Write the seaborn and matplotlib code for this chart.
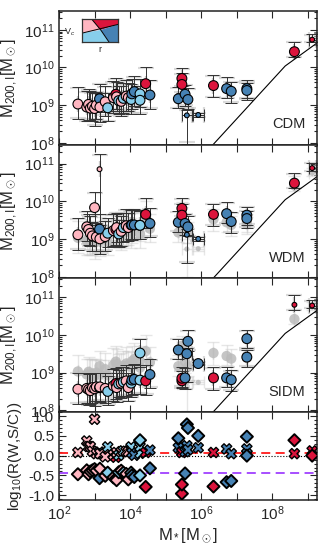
import numpy as np
import pandas as pd
import matplotlib
matplotlib.use("Agg")
import matplotlib.pyplot as plt
import seaborn as sns
from matplotlib.patches import Polygon
from matplotlib.ticker import LogLocator, FuncFormatter, NullFormatter, MultipleLocator, LogFormatterMathtext

# ---------------- data ----------------
log_mstar = [2.53, 2.78, 2.83, 2.88, 2.94, 3.00, 3.05, 3.14, 3.15, 3.30,
             3.37, 3.53, 3.60, 3.62, 3.68, 3.75, 3.81, 3.89, 3.95, 4.03,
             4.05, 4.12, 4.28, 4.28, 4.44, 4.56, 5.36, 5.46, 5.46, 5.55,
             5.60, 5.63, 5.92, 6.35, 6.72, 6.85, 7.29, 7.29, 8.63, 9.13,
             3.14]
category = ["P", "P", "P", "P", "P", "P", "P", "S", "P", "P",
            "L", "P", "R", "P", "L", "P", "L", "P", "P", "L",
            "S", "S", "L", "L", "R", "S", "S", "R", "R", "S",
            "S", "S", "S", "R", "S", "S", "S", "S", "R", "R",
            "P"]
log_m200_cdm = [9.03, 8.95, 9.02, 8.92, 8.97, 8.91, 9.00, 9.17, 8.95, 9.09,
                8.93, 9.20, 9.29, 9.22, 9.12, 9.10, 9.18, 9.24, 9.20, 9.15,
                9.30, 9.36, 9.30, 9.13, 9.57, 9.27, 9.17, 9.71, 9.55, 9.29,
                8.73, 9.15, 8.74, 9.52, 9.44, 9.37, 9.44, 9.39, 10.42, 10.74,
                np.nan]
log_m200_wdm = [9.11, 9.32, 9.25, 9.15, 9.08, 9.83, 9.05, 9.26, 9.00, 9.06,
                9.15, 9.22, 9.25, 9.30, 9.13, 9.20, 9.30, 9.35, 9.30, 9.37,
                9.37, 9.37, 9.36, 9.36, 9.65, 9.41, 9.44, 9.81, 9.63, 9.41,
                9.11, 9.32, 9.00, 9.65, 9.67, 9.46, 9.63, 9.54, 10.48, 10.88,
                10.85]
log_m200_sidm = [8.56, 8.58, 8.55, 8.52, 8.60, 8.57, 8.62, 8.60, 8.62, 8.58,
                 8.50, 8.65, 8.71, 8.60, 8.70, 8.72, 8.75, 8.78, 8.60, 8.72,
                 8.80, 8.82, 8.80, 9.52, 8.78, 8.95, 9.60, 8.78, 8.85, 8.86,
                 9.50, 9.83, 9.24, 8.86, 8.86, 8.81, 9.90, 9.41, 10.80, 10.78,
                 np.nan]
err_up = [0.44, 0.42, 0.40, 0.45, 0.38, 0.42, 0.36, 0.40, 0.38, 0.42,
          0.40, 0.44, 0.42, 0.40, 0.38, 0.42, 0.40, 0.43, 0.38, 0.40,
          0.40, 0.42, 0.40, 0.38, 0.43, 0.40, 0.30, 0.27, 0.30, 0.25,
          0.15, 0.30, 0.05, 0.28, 0.30, 0.25, 0.22, 0.20, 0.26, 0.14,
          0.41]
err_dn = [0.40, 0.38, 0.42, 0.35, 0.40, 0.45, 0.38, 0.35, 0.40, 0.38,
          0.36, 0.40, 0.40, 0.38, 0.35, 0.40, 0.38, 0.40, 0.36, 0.38,
          0.40, 0.38, 0.36, 0.36, 0.37, 0.36, 0.25, 0.20, 0.22, 0.30,
          0.75, 0.25, 0.05, 0.31, 0.25, 0.30, 0.26, 0.25, 0.14, 0.07,
          1.85]
xerr_dex = [0] * 30 + [0.15, 0, 0.15, 0, 0, 0, 0, 0, 0, 0.10, 0]
small_cdm = [False] * 30 + [True, False, True, False, False, False, False, False, False, True, True]
small_wdm = [False] * 30 + [True, False, True, False, False, False, False, False, False, True, True]
small_sidm = [False] * 38 + [True, True, True]

res_wdm = [0.08, 0.37, 0.23, 0.23, 0.11, 0.92, 0.05, 0.09, 0.05, -0.03,
           0.22, 0.02, -0.04, 0.08, 0.01, 0.10, 0.12, 0.11, 0.10, 0.22,
           0.07, 0.01, 0.06, 0.23, 0.08, 0.14, 0.20, 0.10, 0.08, 0.10,
           0.25, 0.15, 0.20, 0.08, 0.17, 0.05, 0.17, 0.05, 0.05, 0.12,
           np.nan]
res_sidm = [-0.47, -0.37, -0.47, -0.40, -0.37, -0.34, -0.38, -0.57, -0.33, -0.51,
            -0.43, -0.55, -0.58, -0.62, -0.42, -0.38, -0.43, -0.46, -0.60, -0.43,
            -0.50, -0.54, -0.50, 0.39, -0.79, -0.32, 0.44, -0.96, -0.73, -0.45,
            0.79, 0.70, 0.50, -0.78, -0.67, -0.64, 0.48, 0.00, 0.39, 0.00,
            np.nan]

line_log_mstar = [6.20, 8.37, 9.50]
line_log_m200 = [7.81, 10.04, 10.81]

res_wdm_mean = 0.075
res_sidm_mean = -0.43

panel_names = ["CDM", "WDM", "SIDM"]
palette = {"P": "#FFB6C1", "L": "#87CEEB", "R": "#DC143C", "S": "#4682B4"}

# ---------------- style ----------------
sns.set_style("ticks")
plt.rcParams["font.family"] = ["Liberation Sans", "DejaVu Sans"]
plt.rcParams["mathtext.fontset"] = "custom"
plt.rcParams["mathtext.rm"] = "Liberation Sans"
plt.rcParams["mathtext.it"] = "Liberation Sans:italic"
plt.rcParams["mathtext.bf"] = "Liberation Sans:bold"
plt.rcParams["axes.unicode_minus"] = False
plt.rcParams["xtick.direction"] = "in"
plt.rcParams["ytick.direction"] = "in"

df = pd.DataFrame({
    "lm": log_mstar, "cat": category,
    "CDM": log_m200_cdm, "WDM": log_m200_wdm, "SIDM": log_m200_sidm,
    "up": err_up, "dn": err_dn, "xe": xerr_dex,
    "sCDM": small_cdm, "sWDM": small_wdm, "sSIDM": small_sidm,
    "rW": res_wdm, "rS": res_sidm,
})
df["mstar"] = 10 ** df["lm"]

fig = plt.figure(figsize=(3.3, 5.5), dpi=100)
gs = fig.add_gridspec(4, 1, height_ratios=[134, 134, 134, 88], hspace=0,
                      left=0.179, right=0.961, top=0.98, bottom=0.091)
axes = [fig.add_subplot(gs[i]) for i in range(4)]
for a in axes[1:]:
    a.sharex(axes[0])

XMIN, XMAX = 1e2, 10 ** 9.27


def errbars(ax, sub, col, ecolor, lw, cap, capthick, alpha, z, scale=1.0):
    y = 10 ** sub[col]
    lo = y - 10 ** (sub[col] - sub["dn"] * scale)
    hi = 10 ** (sub[col] + sub["up"] * scale) - y
    xl = sub["mstar"] - 10 ** (sub["lm"] - sub["xe"])
    xh = 10 ** (sub["lm"] + sub["xe"]) - sub["mstar"]
    ax.errorbar(sub["mstar"], y, yerr=[lo, hi], xerr=[xl, xh], fmt="none",
                ecolor=ecolor, elinewidth=lw, capsize=cap, capthick=capthick,
                alpha=alpha, zorder=z)


def scatter(ax, sub, col, scol, z):
    d = sub.copy()
    d["m200"] = 10 ** d[col]
    d["sz"] = np.where(d[scol], "small", "big")
    sns.scatterplot(data=d, x="mstar", y="m200", hue="cat", palette=palette,
                    size="sz", sizes={"big": 50, "small": 12},
                    edgecolor="black", linewidth=0.8, legend=False, ax=ax, zorder=z)


for i, name in enumerate(panel_names):
    ax = axes[i]
    if name != "CDM":
        g = df.dropna(subset=["CDM"])
        errbars(ax, g, "CDM", "#C8C8C8", 1.0, 4, 1.0, 0.45, 1)
        gg = g.copy()
        gg["m200"] = 10 ** gg["CDM"]
        gg["sz"] = np.where(gg["sCDM"], "small", "big")
        sns.scatterplot(data=gg, x="mstar", y="m200", color="#BBBBBB",
                        size="sz", sizes={"big": 55, "small": 14},
                        edgecolor="none", alpha=0.85, legend=False, ax=ax, zorder=1.5)
    sub = df.dropna(subset=[name])
    errbars(ax, sub, name, "#BDBDBD", 0.0, 6, 1.6, 0.55, 2, scale=0.95)
    errbars(ax, sub, name, "#333333", 0.7, 4, 0.7, 1.0, 2.2)
    scatter(ax, sub, name, "s" + name, 3)
    sns.lineplot(x=[10 ** v for v in line_log_mstar], y=[10 ** v for v in line_log_m200],
                 color="black", lw=0.8, ax=ax, sort=False, zorder=2.5)
    ax.set_yscale("log")
    ax.set_ylim(10 ** 7.95, 10 ** 11.5)
    ax.yaxis.set_major_locator(LogLocator(base=10, numticks=10))
    ax.yaxis.set_major_formatter(LogFormatterMathtext())
    ax.yaxis.set_minor_locator(LogLocator(base=10, subs=np.arange(2, 10), numticks=10))
    ax.yaxis.set_minor_formatter(NullFormatter())
    ax.set_ylabel(r"M$_{200,\mathrm{I}}$[M$_\odot$]", fontsize=12)
    ax.yaxis.set_label_coords(-0.15, 0.5)
    ax.text(0.955, 0.1, name, transform=ax.transAxes, ha="right", va="bottom", fontsize=10.5)

# residual panel
axr = axes[3]
rw = df.dropna(subset=["rW"])
sns.scatterplot(data=rw, x="mstar", y="rW", hue="cat", palette=palette, marker="X",
                s=55, edgecolor="black", linewidth=1.0, legend=False, ax=axr, zorder=3)
rs = df.dropna(subset=["rS"])
sns.scatterplot(data=rs, x="mstar", y="rS", hue="cat", palette=palette, marker="D",
                s=38, edgecolor="black", linewidth=1.4, legend=False, ax=axr, zorder=3)
axr.axhline(0.0, color="black", ls=":", lw=0.8, zorder=1)
axr.axhline(res_wdm_mean, color="#FF1A1A", ls=(0, (5, 3)), lw=1.3, zorder=1)
axr.axhline(res_sidm_mean, color="#A040FF", ls=(0, (5, 3)), lw=1.3, zorder=1)
axr.set_ylim(-1.12, 1.1)
axr.yaxis.set_major_locator(MultipleLocator(0.5))
axr.yaxis.set_minor_locator(MultipleLocator(0.1))
axr.yaxis.set_major_formatter(FuncFormatter(lambda v, p: "%.1f" % v))
axr.set_ylabel(r"log$_{10}$(R(W,S/C))", fontsize=11)
axr.yaxis.set_label_coords(-0.135, 0.5)

for ax in axes:
    ax.set_xscale("log")
    ax.set_xlim(XMIN, XMAX)
    ax.xaxis.set_major_locator(LogLocator(base=10, numticks=20))
    ax.xaxis.set_minor_locator(LogLocator(base=10, subs=np.arange(2, 10), numticks=20))
    ax.xaxis.set_minor_formatter(NullFormatter())
    ax.tick_params(which="both", top=True, right=True, labelsize=11, width=0.8)
    ax.tick_params(which="major", length=5)
    ax.tick_params(which="minor", length=2.5)
    ax.tick_params(axis="x", which="minor", length=0)
    for s in ax.spines.values():
        s.set_linewidth(1.1)
        s.set_color("#222222")
    if ax is not axr:
        ax.tick_params(axis="x", labelbottom=False)
        ax.set_xlabel("")

axr.xaxis.set_major_formatter(FuncFormatter(
    lambda v, p: (r"$10^{%d}$" % round(np.log10(v))) if round(np.log10(v)) % 2 == 0 else ""))
axr.set_xlabel(r"M$_*$[M$_\odot$]", fontsize=12, labelpad=2)

# inset colour key
kx = fig.add_axes([81.7 / 330, 1 - 42.3 / 550, 36.6 / 330, 23.3 / 550])
top = (0.27, 1.0); cen = (0.52, 0.53); bot = (0.75, 0.0); lft = (0.0, 0.39); rgt = (1.0, 0.77)
kx.add_patch(Polygon([(0, 1), top, cen, lft], closed=True, fc=palette["P"], ec="none"))
kx.add_patch(Polygon([top, (1, 1), rgt, cen], closed=True, fc=palette["R"], ec="none"))
kx.add_patch(Polygon([cen, rgt, (1, 0), bot], closed=True, fc=palette["S"], ec="none"))
kx.add_patch(Polygon([lft, cen, bot, (0, 0)], closed=True, fc=palette["L"], ec="none"))
kx.plot([top[0], cen[0], bot[0]], [top[1], cen[1], bot[1]], color="black", lw=0.7)
kx.plot([lft[0], rgt[0]], [lft[1], rgt[1]], color="black", lw=0.7)
kx.set_xlim(0, 1); kx.set_ylim(0, 1)
kx.set_xticks([]); kx.set_yticks([])
for s in kx.spines.values():
    s.set_linewidth(0.9)
    s.set_color("#333333")
fig.text(75 / 330, 1 - 32 / 550, r"V$_c$", fontsize=6.5, ha="right", va="center")
fig.text(99.5 / 330, 1 - 50 / 550, "r", fontsize=6.5, ha="center", va="center")

fig.savefig("out.png", dpi=100)
